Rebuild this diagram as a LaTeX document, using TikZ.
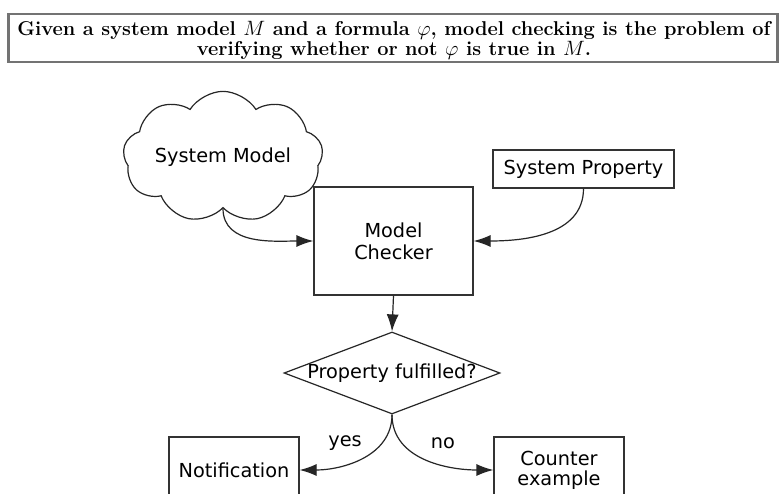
\documentclass[tikz,border=0pt]{standalone}
\usepackage{fontspec}
\newfontfamily\diagfont{DejaVu Sans}
\usetikzlibrary{shapes.geometric,shapes.symbols,arrows.meta}
\begin{document}
\begin{tikzpicture}[x=1pt,y=-1pt,
  every node/.style={font=\diagfont\fontsize{19.3}{22}\selectfont},
  box/.style={draw=black!80, line width=1.2pt, rectangle, inner sep=0pt, align=center},
  conn/.style={draw=black!85, line width=1.2pt, -{Latex[length=17pt,width=12pt]}},
  lbl/.style={inner sep=1pt}]
  \useasboundingbox (0,0) rectangle (779,494);
  \clip (0,0) rectangle (779,494);
  \fill[white] (0,0) rectangle (779,494);

  % definition banner
  \node[draw=black!55, line width=2.4pt, minimum width=769pt, minimum height=48pt,
        inner sep=0pt, align=center, font=\rmfamily\bfseries\fontsize{20}{20.5}\selectfont]
    (def) at (393,38) {};
  \node[align=center, font=\rmfamily\bfseries\fontsize{20}{20.5}\selectfont]
    (deftxt) at (394,40.5)
    {Given a system model $M$ and a formula $\varphi$, model checking is the problem of\\
     verifying whether or not $\varphi$ is true in $M$.};

  % inputs
  \node[cloud, draw=black!85, line width=1.2pt, cloud puffs=9, cloud puff arc=115,
        aspect=1.9, minimum width=200pt, minimum height=105pt, inner sep=0pt]
    (model) at (223,157) {System Model};
  \node[box, minimum width=181pt, minimum height=38pt] (prop) at (583.5,169) {System Property};

  % checker and decision
  \node[box, minimum width=159pt, minimum height=108pt] (mc) at (393.5,241)
    {Model\\Checker};
  \node[diamond, draw=black!85, line width=1.2pt, minimum width=216pt, minimum height=82pt,
        inner sep=0pt] (dec) at (392,373) {\makebox[0pt]{Property fulfilled?}};

  % outcomes
  \node[box, minimum width=130pt, minimum height=80pt] (note) at (234,477) {};
  \node at (234,470) (notetxt) {Notification};
  \node[box, minimum width=130pt, minimum height=80pt] (ce) at (559,477) {};
  \node[align=center] at (559,470) (cetxt) {Counter\\[-2pt]example};

  % connectors
  \draw[conn] (model.south) to[out=-90,in=180] (mc.west);
  \draw[conn] (prop.south) to[out=-90,in=0] (mc.east);
  \draw[conn] (mc.south) -- (dec.north);
  \coordinate (yesend) at (note.east |- 0,470);
  \coordinate (noend) at (ce.west |- 0,470);
  \draw[conn] (dec.south) to[out=-90,in=0] (yesend);
  \draw[conn] (dec.south) to[out=-90,in=180] (noend);
  \node[lbl] (yes) at (345,443) {yes};
  \node[lbl] (no) at (443,443) {no};
\end{tikzpicture}
\end{document}
